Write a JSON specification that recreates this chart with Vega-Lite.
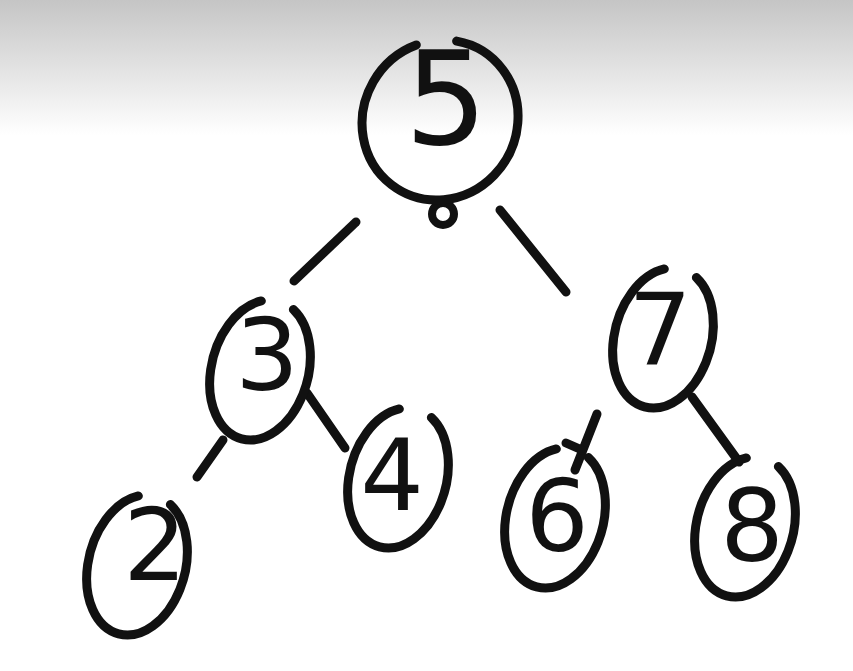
{
  "$schema": "https://vega.github.io/schema/vega-lite/v6.json",
  "width": 853,
  "height": 671,
  "autosize": {"type": "fit", "contains": "padding"},
  "padding": 0,
  "background": "#ffffff",
  "view": {"stroke": null},
  "datasets": {
    "band": [{"x": 0, "x2": 853, "y": 0, "y2": 135}],
    "nodes": [
      {"id": "5", "x": 440, "y": 120, "lx": 446, "ly": 105},
      {"id": "3", "x": 260, "y": 370, "lx": 267, "ly": 360},
      {"id": "7", "x": 663, "y": 338, "lx": 660, "ly": 335},
      {"id": "2", "x": 137, "y": 565, "lx": 155, "ly": 550},
      {"id": "4", "x": 398, "y": 478, "lx": 392, "ly": 480},
      {"id": "6", "x": 555, "y": 518, "lx": 557, "ly": 521},
      {"id": "8", "x": 745, "y": 527, "lx": 752, "ly": 531}
    ],
    "edges": [
      {"x": 356, "y": 222, "x2": 294, "y2": 281},
      {"x": 500, "y": 210, "x2": 566, "y2": 292},
      {"x": 223, "y": 440, "x2": 197, "y2": 477},
      {"x": 307, "y": 393, "x2": 345, "y2": 448},
      {"x": 597, "y": 414, "x2": 575, "y2": 470},
      {"x": 566, "y": 443, "x2": 582, "y2": 450},
      {"x": 692, "y": 397, "x2": 739, "y2": 462}
    ],
    "blob": [{"x": 443, "y": 214}]
  },
  "encoding": {
    "x": {"field": "x", "type": "quantitative", "axis": null,
          "scale": {"domain": [0, 853], "nice": false, "zero": false}},
    "y": {"field": "y", "type": "quantitative", "axis": null,
          "scale": {"domain": [0, 671], "nice": false, "zero": false, "reverse": true}}
  },
  "layer": [
    {
      "data": {"name": "band"},
      "mark": {
        "type": "rect",
        "fill": {
          "gradient": "linear", "x1": 0, "y1": 0, "x2": 0, "y2": 1,
          "stops": [
            {"offset": 0, "color": "#c5c5c5"},
            {"offset": 0.5, "color": "#e2e2e2"},
            {"offset": 1, "color": "#ffffff"}
          ]
        }
      },
      "encoding": {
        "x2": {"field": "x2"},
        "y2": {"field": "y2"}
      }
    },
    {
      "data": {"name": "edges"},
      "mark": {"type": "rule", "stroke": "#111111", "strokeWidth": 9, "strokeCap": "round"},
      "encoding": {
        "x2": {"field": "x2"},
        "y2": {"field": "y2"}
      }
    },
    {
      "data": {"name": "blob"},
      "mark": {"type": "point", "shape": "circle", "size": 484, "filled": false,
               "stroke": "#111111", "strokeWidth": 8, "opacity": 1}
    },
    {
      "data": {"name": "nodes"},
      "transform": [{"filter": "datum.id == '5'"}],
      "mark": {
        "type": "point",
        "shape": "M -0.309 -0.946 A 0.95 1 0 1 1 -0.717 -0.656",
        "size": 26244, "angle": 30, "filled": false,
        "stroke": "#111111", "strokeWidth": 9, "strokeCap": "round", "opacity": 1
      }
    },
    {
      "data": {"name": "nodes"},
      "transform": [{"filter": "datum.id != '5'"}],
      "mark": {
        "type": "point",
        "shape": "M 0.2326 -0.9397 A 0.68 1 0 1 1 -0.2326 -0.9397",
        "size": 20340, "angle": 15, "filled": false,
        "stroke": "#111111", "strokeWidth": 9, "strokeCap": "round", "opacity": 1
      }
    },
    {
      "data": {"name": "nodes"},
      "transform": [{"filter": "datum.id == '5'"}],
      "mark": {"type": "text", "font": "DejaVu Sans", "fontSize": 130,
               "color": "#111111", "align": "center", "baseline": "middle"},
      "encoding": {
        "x": {"field": "lx", "type": "quantitative"},
        "y": {"field": "ly", "type": "quantitative"},
        "text": {"field": "id"}
      }
    },
    {
      "data": {"name": "nodes"},
      "transform": [{"filter": "datum.id != '5'"}],
      "mark": {"type": "text", "font": "DejaVu Sans", "fontSize": 100,
               "color": "#111111", "align": "center", "baseline": "middle"},
      "encoding": {
        "x": {"field": "lx", "type": "quantitative"},
        "y": {"field": "ly", "type": "quantitative"},
        "text": {"field": "id"}
      }
    }
  ]
}
